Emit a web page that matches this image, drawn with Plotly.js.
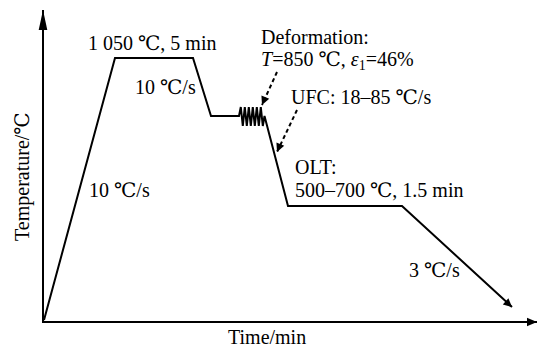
<!DOCTYPE html>
<html>
<head>
<meta charset="utf-8">
<script src="https://cdn.plot.ly/plotly-3.0.1.min.js"></script>
<style>html,body{margin:0;padding:0;background:#fff;}#chart{width:537px;height:348px;}</style>
</head>
<body>
<div id="chart"></div>
<script>
// Schematic process route (time / temperature in schematic units)
const timeMain = [0, 71, 149, 167, 194, 195, 196.8, 198.8, 200.8, 202.8, 204.8, 206.8, 208.8, 210.8, 212.8, 214.8, 216.8, 218.8, 220.5, 244, 358, 468];
const tempMain = [1, 263, 263, 205, 205, 205, 214, 195, 214, 195, 214, 195, 214, 195, 214, 195, 214, 195, 205, 115, 115, 14];

const deformArrowX = [233, 218];
const deformArrowY = [249, 216];
const ufcArrowX = [253, 233];
const ufcArrowY = [211, 169];

const labelText = ["1 050 ℃, 5 min", "10 ℃/s", "10 ℃/s", "Deformation:", "<i>T</i>=850 ℃, <i>ε</i><sub>1</sub>=46%", "UFC: 18–85 ℃/s", "OLT:", "500–700 ℃, 1.5 min", "3 ℃/s"];
const labelX = [108, 154, 43, 215, 215, 245, 249, 249, 363];
const labelY = [278, 234, 131, 284, 261, 224, 154, 131, 51];
const labelAnchor = ["center", "right", "left", "left", "left", "left", "left", "left", "left"];

const xTitle = "Time/min";
const yTitle = "Temperature/℃";

const FONT = "Liberation Serif, Times New Roman, DejaVu Serif, serif";
const FS = 20;

// layout geometry
const W = 537, H = 348, ML = 44, MR = 0, MT = 10, MB = 27;
const PW = W - ML - MR, PH = H - MT - MB;
const px2paperX = p => (p - ML) / PW;
const py2paperY = p => (H - MB - p) / PH;

const traces = [
  {x: timeMain, y: tempMain, mode: 'lines', line: {color: '#000', width: 2}, hoverinfo: 'skip'},
  {x: deformArrowX, y: deformArrowY, mode: 'lines', line: {color: '#000', width: 2, dash: '4px,3px'}, hoverinfo: 'skip'},
  {x: ufcArrowX, y: ufcArrowY, mode: 'lines', line: {color: '#000', width: 2, dash: '4px,3px'}, hoverinfo: 'skip'}
];

const annotations = labelText.map((t, i) => ({
  x: labelX[i], y: labelY[i], xref: 'x', yref: 'y', text: t, showarrow: false,
  xanchor: labelAnchor[i], yanchor: 'middle', font: {family: FONT, size: FS, color: '#000'}
}));

// axis titles (paper-referenced, since they sit outside the axis ranges)
annotations.push({x: px2paperX(22), y: py2paperY(177), xref: 'paper', yref: 'paper', text: yTitle, textangle: -90, showarrow: false,
  xanchor: 'center', yanchor: 'middle', font: {family: FONT, size: FS, color: '#000'}});
annotations.push({x: px2paperX(267), y: py2paperY(337), xref: 'paper', yref: 'paper', text: xTitle, showarrow: false,
  xanchor: 'center', yanchor: 'middle', font: {family: FONT, size: FS, color: '#000'}});

// arrowheads at the ends of the path and of the dashed pointers
const nMain = timeMain.length;
const heads = [
  [timeMain[nMain-1], tempMain[nMain-1], -8, -7],
  [deformArrowX[1], deformArrowY[1], 3, -7],
  [ufcArrowX[1], ufcArrowY[1], 3, -7]
];
heads.forEach(h => annotations.push({x: h[0], y: h[1], xref: 'x', yref: 'y', ax: h[2], ay: h[3],
  text: '', showarrow: true, arrowhead: 2, arrowsize: 1, arrowwidth: 1.7, arrowcolor: '#000'}));

// axis arrowheads (decoration)
const yTip = [43, 10], yBase = 30, yHalf = 4.3;
const xTip = [537, 322], xBase = 527, xHalf = 4.3;
const shapes = [
  {type: 'path', xref: 'paper', yref: 'paper', fillcolor: '#000', line: {width: 0},
   path: `M${px2paperX(yTip[0]-yHalf)},${py2paperY(yBase)} L${px2paperX(yTip[0])},${py2paperY(yTip[1])} L${px2paperX(yTip[0]+yHalf)},${py2paperY(yBase)} Z`},
  {type: 'path', xref: 'paper', yref: 'paper', fillcolor: '#000', line: {width: 0},
   path: `M${px2paperX(xBase)},${py2paperY(xTip[1]-xHalf)} L${px2paperX(xTip[0])},${py2paperY(xTip[1])} L${px2paperX(xBase)},${py2paperY(xTip[1]+xHalf)} Z`}
];

const axisCommon = {showline: true, linecolor: '#000', linewidth: 2, showgrid: false, zeroline: false,
  showticklabels: false, ticks: '', fixedrange: true};

const layout = {
  width: W, height: H,
  margin: {l: ML, r: MR, t: MT, b: MB, pad: 0},
  paper_bgcolor: '#fff', plot_bgcolor: '#fff',
  showlegend: false,
  xaxis: Object.assign({range: [0, PW]}, axisCommon),
  yaxis: Object.assign({range: [0, PH]}, axisCommon),
  annotations: annotations,
  shapes: shapes
};

Plotly.newPlot('chart', traces, layout, {displayModeBar: false, staticPlot: true});
</script>
</body>
</html>
